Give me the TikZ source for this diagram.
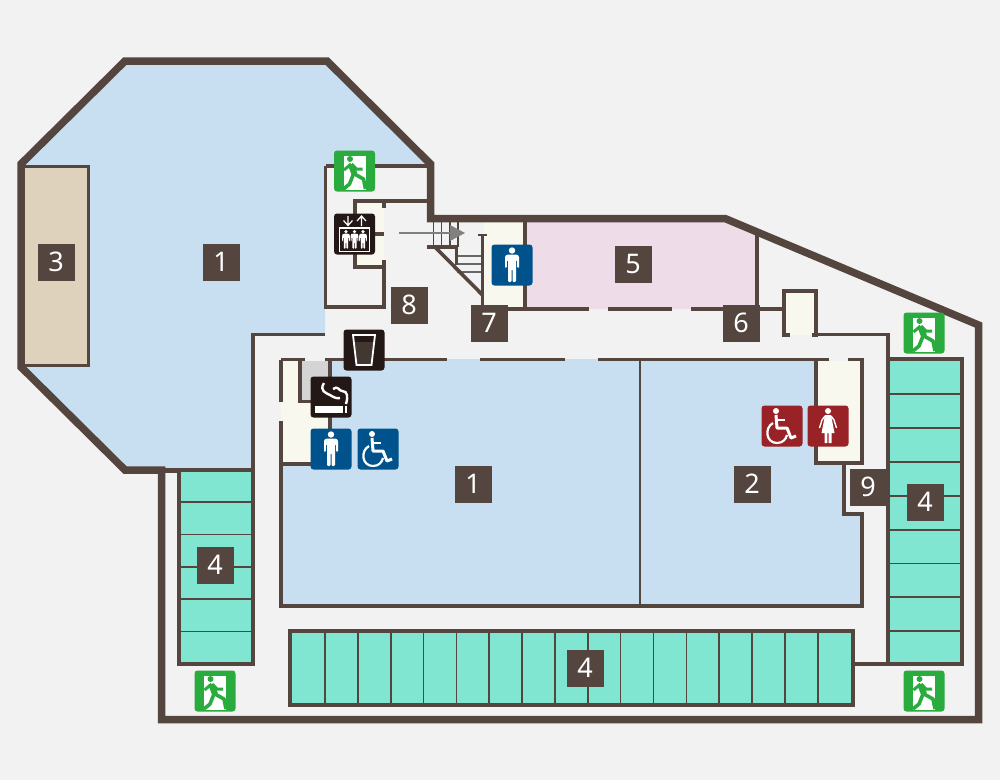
\documentclass[tikz,border=0pt]{standalone}
\usepackage{fontspec}
\setmainfont{Noto Sans}
\definecolor{wallc}{HTML}{54453F}
\definecolor{floorc}{HTML}{F2F2F2}
\definecolor{roomc}{HTML}{C8DFF2}
\definecolor{parkc}{HTML}{80E6D2}
\definecolor{shopc}{HTML}{DFD2BD}
\definecolor{pinkc}{HTML}{EEDDE9}
\definecolor{creamc}{HTML}{F8F8EF}
\definecolor{exitc}{HTML}{2AAB3E}
\definecolor{menc}{HTML}{00528C}
\definecolor{womenc}{HTML}{982225}
\definecolor{blackc}{HTML}{231815}
\tikzset{
  outer/.style={draw=wallc,line width=7.5pt,line join=miter},
  park/.style={draw=wallc,line width=4pt,fill=parkc},
  wall/.style={draw=wallc,line width=3.6pt},
  slim/.style={draw=wallc,line width=1.6pt},
  numb/.style={fill=wallc,text=white,minimum size=37pt,inner sep=0pt,font=\fontsize{27}{27}\selectfont},
  icon/.style={fill=#1,rounded corners=3pt,minimum size=41pt,inner sep=0pt},
  man/.pic={
    \fill[white] (0,-14.5) circle (3.2);
    \fill[white,rounded corners=1.2pt] (-7,-9) -- (-7,3) -- (-5.2,3) -- (-5.2,-5) -- (-4,-5) -- (-4,17)
      -- (-0.5,17) -- (-0.5,4) -- (0.5,4) -- (0.5,17) -- (4,17) -- (4,-5) -- (5.2,-5) -- (5.2,3) -- (7,3)
      -- (7,-9) -- (5,-10.5) -- (-5,-10.5) -- cycle;
  },
  woman/.pic={
    \fill[white] (0,-15) circle (3);
    \fill[white] (-3,-11) -- (3,-11) -- (6.5,7) -- (3.5,7) -- (3.5,17) -- (0.6,17) -- (0.6,7) -- (-0.6,7)
      -- (-0.6,17) -- (-3.5,17) -- (-3.5,7) -- (-6.5,7) -- cycle;
    \draw[white,line width=1.4pt,line join=round] (-3,-10) -- (-6,-6) -- (-8.5,2);
    \draw[white,line width=1.4pt,line join=round] (3,-10) -- (6,-6) -- (8.5,2);
  },
  chair/.pic={
    \fill[white] (-6,-15) circle (3);
    \draw[white,line width=3pt,line join=round] (-6,-11) -- (-5,2) -- (5,2) -- (9,12) -- (14,10);
    \draw[white,line width=2pt] (-5.5,-6) -- (3,-6);
    \draw[white,line width=2.2pt] (-9,-3) .. controls (-18,2) and (-16,17) .. (-5,17) .. controls (1,17) and (4,13) .. (5,9);
  },
  runner/.pic={
    \fill[white] (-11,-15) rectangle (11,19);
    \fill[exitc] (-4.5,-12) circle (3);
    \draw[exitc,line width=6pt] (-3.5,-6) -- (0,3);
    \draw[exitc,line width=3pt,line join=round] (-3.5,-7) -- (-10.5,-1);
    \draw[exitc,line width=3pt,line join=round] (-3,-7) -- (2,-2) -- (8,-2);
    \draw[exitc,line width=3.6pt,line join=round] (-1,3) -- (-5,13) -- (-11,18);
    \draw[exitc,line width=3.6pt,line join=round] (0,3) -- (9,8) -- (11,18);
  },
  smoke/.pic={
    \fill[white] (-16,9) rectangle (12,16);
    \fill[white] (13.5,9) rectangle (15.5,16);
    \draw[white,line width=2.4pt] (-7,-14) .. controls (-12,-6) and (-5,-4) .. (-1,-2) .. controls (2,0) and (6,2) .. (9,1);
    \draw[white,line width=2.4pt] (2,-8) .. controls (7,-12) and (8,-6) .. (11,-6) .. controls (17,-6) and (17,0) .. (15,7);
  },
  glass/.pic={
    \fill[wallc!80!black] (-10,-8) -- (10,-8) -- (7.5,15) -- (-7.5,15) -- cycle;
    \draw[white,line width=1.8pt] (-11,-15) -- (11,-15) -- (7.5,15) -- (-7.5,15) -- cycle;
  },
  lift/.pic={
    \draw[white,line width=1.2pt] (-6.5,-18) -- (-6.5,-9) (-11,-13.5) -- (-6.5,-8.5) -- (-2,-13.5);
    \draw[white,line width=1.2pt] (7,-8) -- (7,-18) (2.5,-13) -- (7,-18) -- (11.5,-13);
    \draw[white,line width=1.2pt] (-15,-6) rectangle (15,17.5);
    \foreach \i in {-8.5,0,8.5}
    {\pic[scale=0.55] at (\i,5.5) {man};}
  }
}
\begin{document}
\begin{tikzpicture}[x=1pt,y=-1pt]
  \useasboundingbox[fill=floorc] (0,0) rectangle (1000,780);

  % rooms
  \fill[roomc] (125,61) -- (327,61) -- (430,164) -- (430,166) -- (325,166) -- (325,335) -- (253,335) -- (253,470) -- (125,470) -- (21,367) -- (21,164) -- cycle;
  \fill[roomc] (330,359) -- (816,359) -- (816,463) -- (844,463) -- (844,514) -- (862,514) -- (862,606) -- (281,606) -- (281,463) -- (330,463) -- cycle;
  \fill[creamc] (281,361) rectangle (330,463);
  \fill[black!17] (302,361) rectangle (330,403);
  \fill[creamc] (816,361) rectangle (862,463);
  \fill[creamc] (355,201) rectangle (384,267);
  \fill[creamc] (484,221) rectangle (525,309);
  \fill[creamc] (784,291) rectangle (816,335);
  \fill[pinkc] (525,221) -- (725,221) -- (757,235) -- (757,309) -- (525,309) -- cycle;
  \draw[slim,line width=3pt,fill=shopc] (24,166) -- (88,166) -- (88,365) -- (24,365);

  % parking
  \draw[park] (179,470) rectangle (253,664);
  \draw[park] (888,359) rectangle (962,664);
  \draw[park] (290,631) rectangle (853,705);
  \foreach \i in {502,534.5,567,599,631.5}
  {\draw[slim] (179,\i) -- (253,\i);}
  \foreach \i in {394,428,462,496,530,563.5,597,631}
  {\draw[slim] (888,\i) -- (962,\i);}
  \foreach \i in {0,...,15}
  {\draw[slim] (325+32.85*\i,631) -- (325+32.85*\i,705);}

  % main walls
  \draw[outer] (125,61) -- (327,61) -- (430.5,164) -- (430.5,218.5) -- (725,218.5) -- (978.5,325) -- (978.5,719.5) -- (161.5,719.5) -- (161.5,470) -- (125,470) -- (21,367) -- (21,164) -- cycle;
  \draw[wall,line width=5pt] (161,470) -- (179,470);

  % corridor walls
  \draw[wall] (325,334.5) -- (253,334.5) -- (253,664) -- (179,664);
  \draw[wall] (281,359.5) -- (305,359.5);
  \draw[wall] (325,359.5) -- (447,359.5);
  \draw[wall] (480,359.5) -- (565,359.5);
  \draw[wall] (598,359.5) -- (829,359.5);
  \draw[wall] (848,359.5) -- (862,359.5) -- (862,463) -- (816,463) -- (816,359.5);
  \draw[wall] (844,463) -- (844,514) -- (862,514) -- (862,606) -- (281,606) -- (281,421);
  \draw[wall] (281,402) -- (281,359.5);
  \draw[wall] (281,464) -- (312,464);
  \draw[wall] (300,359.5) -- (300,401.5) -- (312,401.5);
  \draw[wall] (330,359.5) -- (330,430);
  \draw[slim] (640,359) -- (640,606);
  \draw[wall] (790,335) -- (784,335) -- (784,291) -- (816,291) -- (816,335) -- (812,335);
  \draw[wall] (816,334.5) -- (888,334.5) -- (888,359);
  \draw[wall] (853,664) -- (888,664);

  % shops upstairs
  \draw[wall] (483,309) -- (589,309);
  \draw[wall] (608,309) -- (672,309);
  \draw[wall] (691,309) -- (784,309);
  \draw[wall] (525,221) -- (525,309);
  \draw[wall] (757,235) -- (757,309);

  % lift hall
  \draw[wall] (325.5,166) -- (430,166);
  \draw[wall] (325.5,166) -- (325.5,307) -- (384,307) -- (384,260);
  \draw[wall] (428,201) -- (355,201) -- (355,267) -- (384,267);
  \draw[wall] (384,201) -- (384,208);
  \draw[wall] (375,234) -- (384,234);

  % stairs
  \foreach \i in {433.5,441.5,450,458}
  {\draw[slim] (\i,222) -- (\i,247);}
  \foreach \i in {256,264,272}
  {\draw[slim,black!60] (457,\i) -- (482,\i);}
  \draw[wall] (427,247) -- (458,247);
  \draw[wall] (435,247) -- (482.5,295);
  \draw[wall] (456.5,247) -- (456.5,265);
  \draw[wall] (482.5,235) -- (482.5,309);
  \draw[wall,line width=2pt] (478,235) -- (487,235);
  \draw[black!50,line width=2pt] (399,233) -- (450,233);
  \fill[black!50] (450,225) -- (465,233) -- (450,241) -- cycle;

  % icons
  \node[icon=exitc] (exitlift) at (354.5,171) {};
  \node[icon=exitc] (exitne) at (924,333) {};
  \node[icon=exitc] (exitsw) at (215,691) {};
  \node[icon=exitc] (exitse) at (924,691) {};
  \foreach \n in {exitlift,exitne,exitsw,exitse}
  {\pic at (\n) {runner};}
  \node[icon=blackc] (lifticon) at (354.5,234) {};
  \pic at (lifticon) {lift};
  \node[icon=blackc] (drink) at (364,350) {};
  \pic at (drink) {glass};
  \node[icon=blackc] (smoking) at (331,397) {};
  \pic at (smoking) {smoke};
  \node[icon=menc] (menup) at (512,265) {};
  \pic at (menup) {man};
  \node[icon=menc] (menlow) at (331,449) {};
  \pic at (menlow) {man};
  \node[icon=menc] (chairblue) at (378,449) {};
  \pic at (chairblue) {chair};
  \node[icon=womenc] (chairred) at (782,426) {};
  \pic at (chairred) {chair};
  \node[icon=womenc] (womenicon) at (828,426) {};
  \pic at (womenicon) {woman};

  % room numbers
  \node[numb] (shopa) at (221,262) {1};
  \node[numb] (shopb) at (473,484) {1};
  \node[numb] (shopc) at (752,484) {2};
  \node[numb] (shopd) at (56,262) {3};
  \node[numb] (parka) at (215,565) {4};
  \node[numb] (parkb) at (925,502) {4};
  \node[numb] (parkc) at (585,668) {4};
  \node[numb] (shope) at (633,264) {5};
  \node[numb] (shopf) at (741,323) {6};
  \node[numb] (shopg) at (489,323) {7};
  \node[numb] (shoph) at (409,305) {8};
  \node[numb] (shopi) at (868,487) {9};
\end{tikzpicture}
\end{document}
